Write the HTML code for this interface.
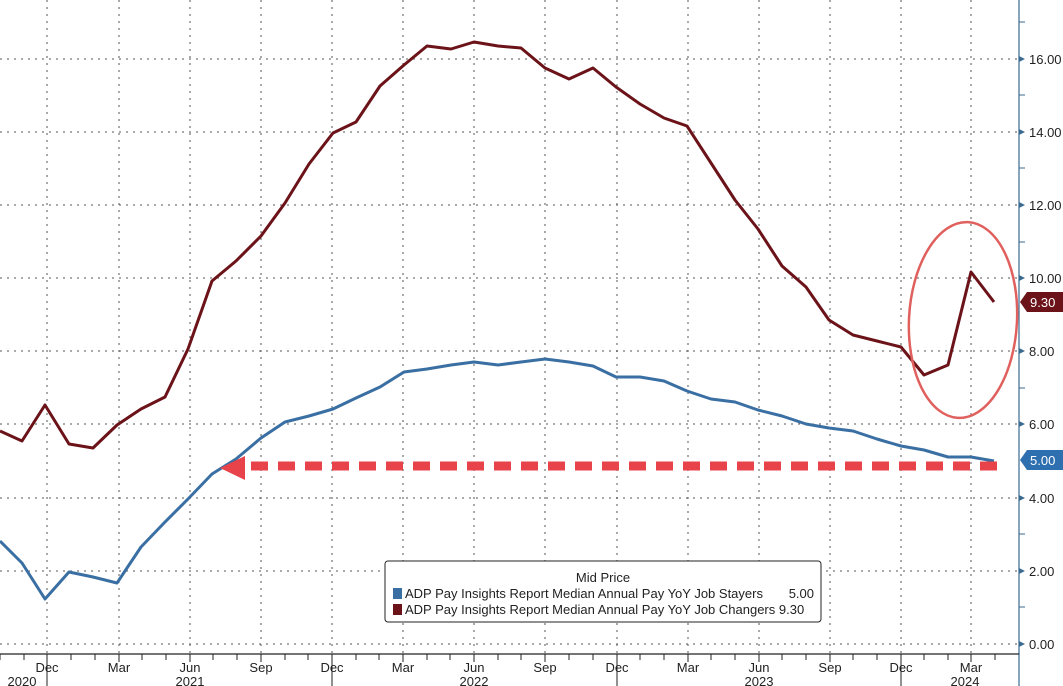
<!DOCTYPE html>
<html><head><meta charset="utf-8"><style>
html,body{margin:0;padding:0;background:#fff;}
svg{display:block;font-family:"Liberation Sans Narrow","Liberation Sans",sans-serif;}
</style></head><body>
<svg width="1063" height="686" viewBox="0 0 1063 686" xmlns="http://www.w3.org/2000/svg">
<rect width="1063" height="686" fill="#fff"/>
<g stroke="#555" stroke-width="1" stroke-dasharray="2,5">
<line x1="0" y1="59" x2="1019" y2="59"/><line x1="0" y1="132" x2="1019" y2="132"/>
<line x1="0" y1="205" x2="1019" y2="205"/><line x1="0" y1="278" x2="1019" y2="278"/>
<line x1="0" y1="351" x2="1019" y2="351"/><line x1="0" y1="424" x2="1019" y2="424"/>
<line x1="0" y1="498" x2="1019" y2="498"/><line x1="0" y1="571" x2="1019" y2="571"/>
<line x1="0" y1="644" x2="1019" y2="644"/>
<line x1="47" y1="0" x2="47" y2="654"/><line x1="119" y1="0" x2="119" y2="654"/>
<line x1="190" y1="0" x2="190" y2="654"/><line x1="261" y1="0" x2="261" y2="654"/>
<line x1="332" y1="0" x2="332" y2="654"/><line x1="403" y1="0" x2="403" y2="654"/>
<line x1="474" y1="0" x2="474" y2="654"/><line x1="545" y1="0" x2="545" y2="654"/>
<line x1="617" y1="0" x2="617" y2="654"/><line x1="688" y1="0" x2="688" y2="654"/>
<line x1="759" y1="0" x2="759" y2="654"/><line x1="830" y1="0" x2="830" y2="654"/>
<line x1="901" y1="0" x2="901" y2="654"/><line x1="971" y1="0" x2="971" y2="654"/>
</g>
<line x1="1019" y1="0" x2="1019" y2="686" stroke="#3a6a8e" stroke-width="1.2"/>
<line x1="0" y1="654" x2="1019" y2="654" stroke="#222" stroke-width="1.2"/>
<g stroke="#222" stroke-width="1">
<line x1="47" y1="654" x2="47" y2="686"/><line x1="332" y1="654" x2="332" y2="686"/>
<line x1="617" y1="654" x2="617" y2="686"/><line x1="901" y1="654" x2="901" y2="686"/>
<line x1="0" y1="654" x2="0" y2="660"/><line x1="24" y1="654" x2="24" y2="660"/>
<line x1="71" y1="654" x2="71" y2="660"/><line x1="95" y1="654" x2="95" y2="660"/>
<line x1="119" y1="654" x2="119" y2="662"/><line x1="142" y1="654" x2="142" y2="660"/>
<line x1="166" y1="654" x2="166" y2="660"/><line x1="190" y1="654" x2="190" y2="662"/>
<line x1="213" y1="654" x2="213" y2="660"/><line x1="237" y1="654" x2="237" y2="660"/>
<line x1="261" y1="654" x2="261" y2="662"/><line x1="285" y1="654" x2="285" y2="660"/>
<line x1="308" y1="654" x2="308" y2="660"/><line x1="356" y1="654" x2="356" y2="660"/>
<line x1="379" y1="654" x2="379" y2="660"/><line x1="403" y1="654" x2="403" y2="662"/>
<line x1="427" y1="654" x2="427" y2="660"/><line x1="450" y1="654" x2="450" y2="660"/>
<line x1="474" y1="654" x2="474" y2="662"/><line x1="498" y1="654" x2="498" y2="660"/>
<line x1="521" y1="654" x2="521" y2="660"/><line x1="545" y1="654" x2="545" y2="662"/>
<line x1="569" y1="654" x2="569" y2="660"/><line x1="593" y1="654" x2="593" y2="660"/>
<line x1="640" y1="654" x2="640" y2="660"/><line x1="664" y1="654" x2="664" y2="660"/>
<line x1="688" y1="654" x2="688" y2="662"/><line x1="711" y1="654" x2="711" y2="660"/>
<line x1="735" y1="654" x2="735" y2="660"/><line x1="759" y1="654" x2="759" y2="662"/>
<line x1="782" y1="654" x2="782" y2="660"/><line x1="806" y1="654" x2="806" y2="660"/>
<line x1="830" y1="654" x2="830" y2="662"/><line x1="853" y1="654" x2="853" y2="660"/>
<line x1="877" y1="654" x2="877" y2="660"/><line x1="924" y1="654" x2="924" y2="660"/>
<line x1="948" y1="654" x2="948" y2="660"/><line x1="971" y1="654" x2="971" y2="662"/>
<line x1="995" y1="654" x2="995" y2="660"/>
</g>
<g font-size="13" fill="#222" text-anchor="middle">
<text x="47" y="672">Dec</text><text x="119" y="672">Mar</text><text x="190" y="672">Jun</text>
<text x="261" y="672">Sep</text><text x="332" y="672">Dec</text><text x="403" y="672">Mar</text>
<text x="474" y="672">Jun</text><text x="545" y="672">Sep</text><text x="617" y="672">Dec</text>
<text x="688" y="672">Mar</text><text x="759" y="672">Jun</text><text x="830" y="672">Sep</text>
<text x="901" y="672">Dec</text><text x="971" y="672">Mar</text>
<text x="22" y="686">2020</text><text x="190" y="686">2021</text><text x="474" y="686">2022</text>
<text x="759" y="686">2023</text><text x="965" y="686">2024</text>
</g>
<g fill="#3a6a8e">
<polygon points="1019,56 1025,59 1019,62"/><polygon points="1019,129 1025,132 1019,135"/>
<polygon points="1019,202 1025,205 1019,208"/><polygon points="1019,275 1025,278 1019,281"/>
<polygon points="1019,348 1025,351 1019,354"/><polygon points="1019,421 1025,424 1019,427"/>
<polygon points="1019,495 1025,498 1019,501"/><polygon points="1019,568 1025,571 1019,574"/>
<polygon points="1019,641 1025,644 1019,647"/>
</g>
<g stroke="#3a6a8e" stroke-width="1">
<line x1="1019" y1="22" x2="1025" y2="22"/><line x1="1019" y1="95" x2="1025" y2="95"/>
<line x1="1019" y1="168" x2="1025" y2="168"/><line x1="1019" y1="242" x2="1025" y2="242"/>
<line x1="1019" y1="388" x2="1025" y2="388"/><line x1="1019" y1="534" x2="1025" y2="534"/>
<line x1="1019" y1="607" x2="1025" y2="607"/>
</g>
<g font-size="13" fill="#222">
<text x="1029" y="64">16.00</text><text x="1029" y="137">14.00</text><text x="1029" y="210">12.00</text>
<text x="1029" y="283">10.00</text><text x="1029" y="356">8.00</text><text x="1029" y="429">6.00</text>
<text x="1029" y="503">4.00</text><text x="1029" y="576">2.00</text><text x="1029" y="649">0.00</text>
</g>
<polyline fill="none" stroke="#6b1319" stroke-width="3" stroke-linejoin="round" points="0,431 22,441 45,405 69,444 93,448 117,425 141,409 165,397 188,349 212,281 236,261 261,236 285,203 309,164 333,133 356,122 380,86 404,65 427,46 451,49 474,42 498,46 521,48 545,68 569,79 593,68 616,87 640,104 664,118 687,126 711,163 735,200 758,229 782,266 806,287 829,320 853,335 877,341 901,347 924,375 948,365 971,272 994,302"/>
<polyline fill="none" stroke="#3a6fa3" stroke-width="3" stroke-linejoin="round" points="0,541 22,563 45,599 69,572 93,577 117,583 141,547 165,522 188,499 212,474 236,459 261,438 285,422 309,416 333,409 356,398 380,387 404,372 427,369 451,365 474,362 498,365 521,362 545,359 569,362 593,366 616,377 640,377 664,381 687,391 711,399 735,402 758,410 782,416 806,424 829,428 853,431 877,439 901,446 924,450 948,457 971,457 994,461"/>
<line x1="251" y1="466" x2="1000" y2="466" stroke="#e8434a" stroke-width="9" stroke-dasharray="17,10"/>
<polygon points="220,468 245,456 245,480" fill="#e8434a"/>
<ellipse cx="963" cy="320" rx="54" ry="98" fill="none" stroke="#e0605e" stroke-width="2.5" transform="rotate(3 963 320)"/>
<polygon points="1020,302 1027,292 1063,292 1063,312 1027,312" fill="#6b1319"/>
<text x="1030" y="307" font-size="13" fill="#fff">9.30</text>
<polygon points="1020,460 1027,450 1063,450 1063,470 1027,470" fill="#2e6fb0"/>
<text x="1030" y="465" font-size="13" fill="#fff">5.00</text>
<rect x="385" y="561" width="436" height="61" rx="3" fill="#fff" stroke="#222" stroke-width="1"/>
<text x="603" y="582" font-size="13" fill="#222" text-anchor="middle">Mid Price</text>
<rect x="393" y="588" width="9" height="11" fill="#3a6fa3"/>
<rect x="393" y="604" width="9" height="11" fill="#6b1319"/>
<text x="405" y="598" font-size="13" fill="#222">ADP Pay Insights Report Median Annual Pay YoY Job Stayers</text>
<text x="814" y="598" font-size="13" fill="#222" text-anchor="end">5.00</text>
<text x="405" y="614" font-size="13" fill="#222">ADP Pay Insights Report Median Annual Pay YoY Job Changers 9.30</text>
</svg>
</body></html>
